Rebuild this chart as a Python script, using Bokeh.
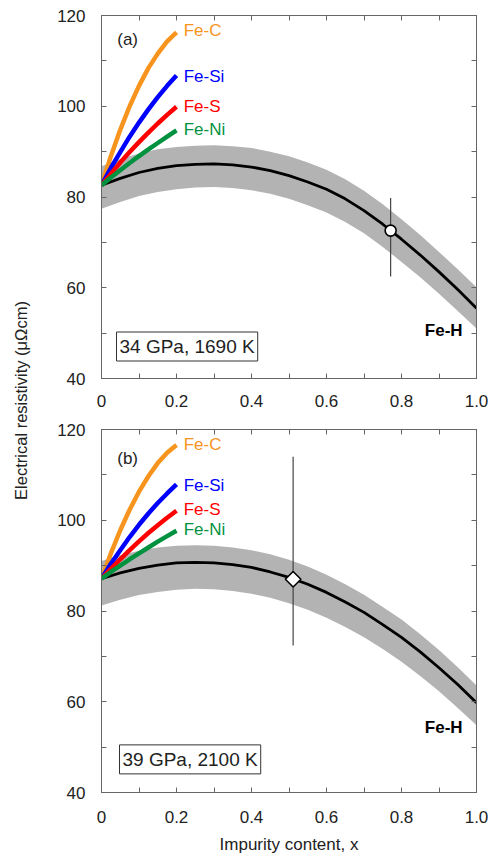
import math
from bokeh.plotting import figure
from bokeh.models import Range1d, LinearAxis, FixedTicker, Label
from bokeh.layouts import column, row
from bokeh.embed import file_html
from bokeh.resources import INLINE

FONT = "Liberation Sans"
AX = "#666666"
TXT = "#222222"

# ---------------- data ----------------
x_grid = [0.0, 0.05, 0.1, 0.15, 0.2, 0.25, 0.3, 0.35, 0.4, 0.45, 0.5,
          0.55, 0.6, 0.65, 0.7, 0.75, 0.8, 0.85, 0.9, 0.95, 1.0]

feh_a = [82.6, 84.1, 85.4, 86.3, 86.9, 87.2, 87.3, 87.1, 86.6, 85.8, 84.7,
         83.3, 81.7, 79.6, 77.0, 74.0, 70.7, 67.2, 63.5, 59.6, 55.5]
feh_a_hi = [86.8, 88.4, 89.6, 90.5, 91.0, 91.3, 91.4, 91.2, 90.8, 90.0, 89.0,
            87.6, 86.0, 83.9, 81.4, 78.4, 75.1, 71.6, 67.9, 64.1, 60.1]
feh_a_lo = [77.4, 78.9, 80.2, 81.1, 81.7, 82.1, 82.2, 82.0, 81.5, 80.7, 79.6,
            78.2, 76.6, 74.5, 72.0, 69.0, 65.7, 62.3, 58.7, 54.9, 51.0]

feh_b = [87.1, 88.4, 89.4, 90.1, 90.6, 90.7, 90.6, 90.2, 89.6, 88.6, 87.4,
         85.9, 84.1, 82.0, 79.7, 77.0, 74.2, 71.0, 67.5, 63.8, 59.8]
feh_b_hi = [91.0, 92.3, 93.3, 94.0, 94.4, 94.5, 94.4, 94.0, 93.4, 92.5, 91.3,
            89.8, 88.0, 85.9, 83.6, 80.9, 78.1, 74.9, 71.4, 67.6, 63.6]
feh_b_lo = [81.2, 82.5, 83.5, 84.2, 84.7, 84.9, 84.8, 84.4, 83.8, 82.9, 81.7,
            80.3, 78.5, 76.5, 74.2, 71.6, 68.8, 65.7, 62.3, 58.6, 54.8]

x_imp = [0.0, 0.025, 0.05, 0.075, 0.1, 0.125, 0.15, 0.175, 0.2]
fec_a = [82.6, 89.0, 94.8, 100.0, 104.5, 108.4, 111.6, 114.3, 116.3]
fesi_a = [82.6, 86.4, 89.9, 93.3, 96.4, 99.3, 102.0, 104.5, 106.8]
fes_a = [82.6, 85.1, 87.6, 89.9, 92.1, 94.2, 96.2, 98.1, 99.9]
feni_a = [82.6, 84.3, 85.9, 87.5, 89.0, 90.5, 91.9, 93.3, 94.7]

fec_b = [87.1, 92.7, 97.8, 102.3, 106.3, 109.7, 112.6, 114.9, 116.6]
fesi_b = [87.1, 90.4, 93.4, 96.3, 99.0, 101.5, 103.8, 105.9, 107.9]
fes_b = [87.1, 89.3, 91.4, 93.4, 95.35, 97.2, 98.9, 100.55, 102.1]
feni_b = [87.1, 88.6, 90.0, 91.4, 92.7, 94.0, 95.3, 96.5, 97.7]

alloy_names = ["Fe-C", "Fe-Si", "Fe-S", "Fe-Ni"]
alloy_colors = ["#F7941D", "#0000FF", "#FF0000", "#00923F"]
label_y_a = [116.6, 106.6, 100.0, 94.9]
label_y_b = [116.6, 107.7, 102.4, 97.9]

meas_a = dict(x=0.771, y=72.6, lo=62.5, hi=79.8)
meas_b = dict(x=0.511, y=87.0, lo=72.4, hi=114.0)

cond_a = "34 GPa, 1690 K"
cond_b = "39 GPa, 2100 K"

x_ticks = [0.0, 0.2, 0.4, 0.6, 0.8, 1.0]
x_tick_labels = ["0", "0.2", "0.4", "0.6", "0.8", "1.0"]
x_minor = [0.1, 0.3, 0.5, 0.7, 0.9]
y_ticks = [40, 60, 80, 100, 120]
y_minor = [50, 70, 90, 110]


def style_axis(ax, show):
    ax.axis_line_color = AX
    ax.major_tick_line_color = AX
    ax.minor_tick_line_color = AX
    ax.major_tick_in = 5
    ax.major_tick_out = 0
    ax.minor_tick_in = 5
    ax.minor_tick_out = 0
    ax.major_label_text_font = FONT
    ax.major_label_text_font_size = "17px"
    if show:
        ax.major_label_text_color = TXT
    else:
        ax.major_label_text_color = None
        ax.major_label_standoff = 0


def make_panel(tag, tag_y, w, h, top, bottom, x_standoff, feh, hi, lo, alloys,
               label_y, meas, marker, cond, cond_y, cond_x, feh_y, xlabel):
    p = figure(width=w, height=h, x_range=Range1d(0, 1), y_range=Range1d(40, 120),
               toolbar_location=None, output_backend="svg",
               min_border_left=63, min_border_right=18,
               min_border_top=top, min_border_bottom=bottom)
    p.grid.visible = False
    p.outline_line_color = AX
    p.background_fill_color = "white"
    p.border_fill_color = "white"

    xax = p.xaxis[0]
    yax = p.yaxis[0]
    xax.ticker = FixedTicker(ticks=x_ticks, minor_ticks=x_minor)
    yax.ticker = FixedTicker(ticks=y_ticks, minor_ticks=y_minor)
    xax.major_label_overrides = dict(zip(x_ticks, x_tick_labels))
    style_axis(xax, True)
    style_axis(yax, True)
    xax.major_label_standoff = x_standoff
    yax.major_label_standoff = 16
    if xlabel:
        xax.axis_label = xlabel
        xax.axis_label_text_font = FONT
        xax.axis_label_text_font_size = "17px"
        xax.axis_label_text_font_style = "normal"
        xax.axis_label_text_color = TXT
        xax.axis_label_standoff = 9

    top_ax = LinearAxis(ticker=FixedTicker(ticks=x_ticks, minor_ticks=x_minor))
    right_ax = LinearAxis(ticker=FixedTicker(ticks=y_ticks, minor_ticks=y_minor))
    style_axis(top_ax, False)
    style_axis(right_ax, False)
    p.add_layout(top_ax, "above")
    p.add_layout(right_ax, "right")

    # Fe-H band and curve
    p.varea(x=x_grid, y1=lo, y2=hi, fill_color="#B3B3B3", fill_alpha=1.0)
    p.line(x_grid, feh, line_color="black", line_width=2.8)

    # alloy curves
    for name, col, ys, ly in zip(alloy_names, alloy_colors, alloys, label_y):
        p.line(x_imp, ys, line_color=col, line_width=4.5)
        p.add_layout(Label(x=0.219, y=ly, text=name, text_color=col,
                           text_font=FONT, text_font_size="17px",
                           text_align="left", text_baseline="middle"))

    # measurement with error bar
    p.segment(x0=[meas["x"]], y0=[meas["lo"]], x1=[meas["x"]], y1=[meas["hi"]],
              line_color="#444444", line_width=1.2)
    if marker == "circle":
        p.scatter([meas["x"]], [meas["y"]], marker="circle", size=11,
                  fill_color="white", line_color="black", line_width=1.6)
    else:
        p.scatter([meas["x"]], [meas["y"]], marker="square", size=11, angle=math.pi / 4,
                  fill_color="white", line_color="black", line_width=1.6)

    p.add_layout(Label(x=0.042, y=tag_y, text=tag,
                       text_color=TXT, text_font=FONT, text_font_size="17px",
                       text_align="left", text_baseline="middle"))
    p.add_layout(Label(x=0.963, y=feh_y, text="Fe-H", text_color="black",
                       text_font=FONT, text_font_size="17px", text_font_style="bold",
                       text_align="right", text_baseline="middle"))
    p.add_layout(Label(x=cond_x, y=cond_y, text=cond, text_color=TXT,
                       text_font=FONT, text_font_size="19px",
                       text_align="left", text_baseline="middle",
                       border_line_color="#333333", border_line_width=1,
                       background_fill_color="white", padding=(3, 4)))
    return p


pa = make_panel("(a)", 114.8, 456, 415, 15, 37, 16, feh_a, feh_a_hi, feh_a_lo,
                [fec_a, fesi_a, fes_a, feni_a], label_y_a, meas_a, "circle",
                cond_a, 47.05, 0.04, 50.6, None)
pb = make_panel("(b)", 113.5, 456, 443, 14, 66, 18, feh_b, feh_b_hi, feh_b_lo,
                [fec_b, fesi_b, fes_b, feni_b], label_y_b, meas_b, "diamond",
                cond_b, 47.3, 0.048, 54.3, "Impurity content, x")

LAB_H = 858
lab = figure(width=38, height=LAB_H, x_range=Range1d(0, 38), y_range=Range1d(0, LAB_H),
             toolbar_location=None, output_backend="svg", min_border=0,
             x_axis_location=None, y_axis_location=None)
lab.grid.visible = False
lab.outline_line_color = None
lab.add_layout(Label(x=20, y=LAB_H - 400, text="Electrical resistivity (μΩcm)",
                     angle=math.pi / 2, text_align="center", text_baseline="middle",
                     text_font=FONT, text_font_size="16.5px", text_color=TXT))

layout = row(lab, column(pa, pb))
open("out.html", "w").write(file_html(layout, INLINE))
